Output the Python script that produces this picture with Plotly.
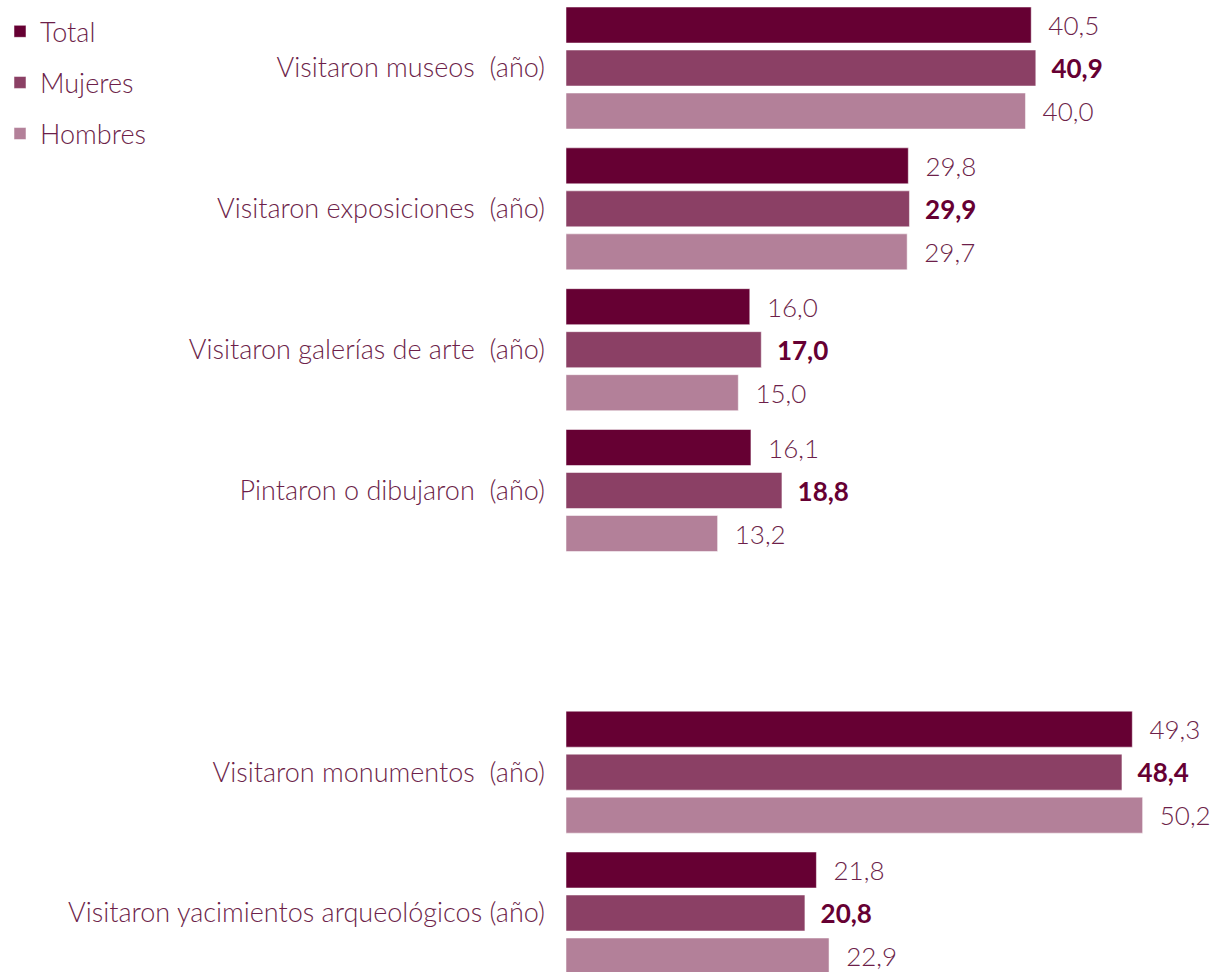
import plotly.graph_objects as go

# ---- data ----
groups = [
    ["Visitaron museos  (año)", "Visitaron exposiciones  (año)",
     "Visitaron galerías de arte  (año)", "Pintaron o dibujaron  (año)"],
    ["Visitaron monumentos  (año)", "Visitaron yacimientos arqueológicos (año)"],
]
series_names = ["Total", "Mujeres", "Hombres"]
total = [40.5, 29.8, 16.0, 16.1, 49.3, 21.8]
mujeres = [40.9, 29.9, 17.0, 18.8, 48.4, 20.8]
hombres = [40.0, 29.7, 15.0, 13.2, 50.2, 22.9]

colors = ["#660033", "#8B4065", "#B38099"]
text_color = "#6D1F4A"
font_family = "Lato, 'Open Sans', sans-serif"
fsize_val = 26
fsize_lab = 27

# slot positions: one empty slot between the two groups
categories = []
slots = []
pos = 0
for gi, g in enumerate(groups):
    if gi > 0:
        pos += 1
    for c in g:
        categories.append(c)
        slots.append(pos)
        pos += 1

values = [total, mujeres, hombres]

fig = go.Figure()
for i, (name, vals) in enumerate(zip(series_names, values)):
    bold = (name == "Mujeres")
    fig.add_trace(go.Bar(
        name=name,
        y=slots,
        x=vals,
        orientation="h",
        marker=dict(color=colors[i], line=dict(color="rgba(255,255,255,0.5)", width=1)),
        text=["\u00a0\u00a0" + ("%.1f" % v).replace(".", ",") for v in vals],
        textposition="outside",
        textfont=dict(size=fsize_val, color="#660033" if bold else text_color,
                      family=font_family, weight=700 if bold else 300),
        cliponaxis=False,
        legendgroup=name,
        hoverinfo="x+name",
    ))

n_slots = pos
fig.update_layout(
    width=1215, height=972,
    barmode="group",
    bargap=0.084,
    bargroupgap=0.163,
    plot_bgcolor="white",
    paper_bgcolor="white",
    margin=dict(l=566, r=0, t=0, b=0, autoexpand=False),
    font=dict(family=font_family, color=text_color, size=fsize_lab, weight=300),
    showlegend=True,
    legend=dict(
        xref="container", yref="container",
        x=0.0, y=0.9925, xanchor="left", yanchor="top",
        font=dict(size=fsize_lab, color=text_color, family=font_family, weight=300),
        tracegroupgap=13,
        bgcolor="rgba(0,0,0,0)",
        itemwidth=30,
    ),
    xaxis=dict(range=[0, 56.5], visible=False, automargin=False),
    yaxis=dict(
        tickmode="array",
        tickvals=slots,
        ticktext=[c.replace("  ", "\u00a0 ") for c in categories],
        range=[n_slots - 1 + 0.419, -0.483],
        showgrid=False, zeroline=False, showline=False,
        ticks="", ticklabelstandoff=20, automargin=False,
        tickfont=dict(size=fsize_lab, color=text_color, family=font_family, weight=300),
    ),
)

fig.write_html(
    "out.html",
    config={"displayModeBar": False},
    post_script="document.body.style.margin='0';document.body.style.overflow='hidden';",
)
